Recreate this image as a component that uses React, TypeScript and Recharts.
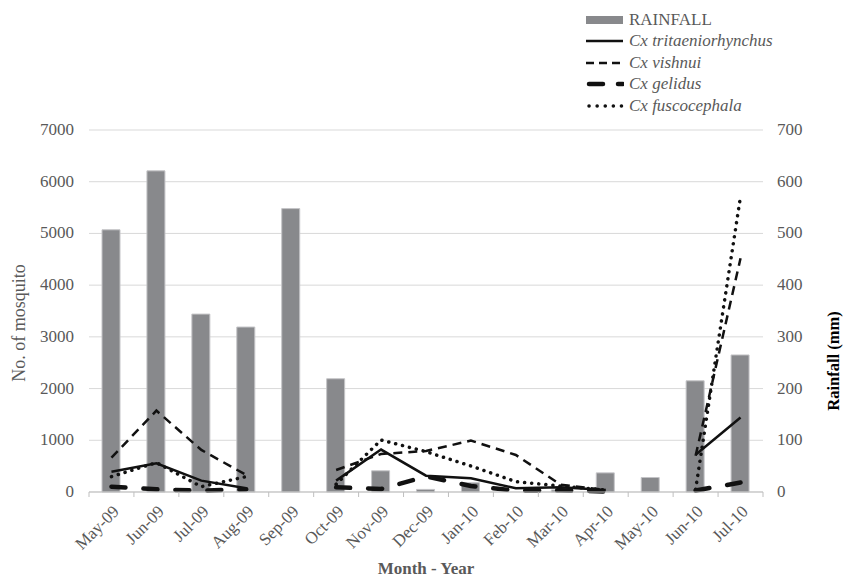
import * as React from "react";
import {
  ComposedChart, Bar, Line, XAxis, YAxis, CartesianGrid, Legend
} from "recharts";

const months = ["May-09", "Jun-09", "Jul-09", "Aug-09", "Sep-09", "Oct-09", "Nov-09", "Dec-09", "Jan-10", "Feb-10", "Mar-10", "Apr-10", "May-10", "Jun-10", "Jul-10"];
const rainfall = [507, 621, 344, 319, 548, 219, 41, 5, 18, 0, 4, 37, 28, 215, 265];
const tritaeniorhynchus = [393, 555, 220, 71, null, 220, 820, 316, 265, 71, 90, 40, null, 720, 1440];
const vishnui = [664, 1574, 813, 329, null, 425, 735, 793, 994, 716, 140, 40, null, 700, 4520];
const gelidus = [103, 52, 26, 52, null, 90, 58, 300, 116, 26, 32, 10, null, 30, 182];
const fuscocephala = [297, 568, 103, 297, null, 150, 1006, 780, 503, 200, 116, 40, null, 50, 5716];

const leftTicks = [0, 1000, 2000, 3000, 4000, 5000, 6000, 7000];
const rightTicks = [0, 100, 200, 300, 400, 500, 600, 700];

const data = months.map((m, i) => ({
  month: m,
  rain: rainfall[i],
  trit: tritaeniorhynchus[i],
  vish: vishnui[i],
  gel: gelidus[i],
  fusc: fuscocephala[i],
}));

const FONT = "Liberation Serif";
const GREY = "#595959";
const AXIS_GREY = "#bfbfbf";
// plot is 843 - 89 - 80 px wide, split into one band per month
const HALF_BAND = (843 - 89 - 80) / months.length / 2;

const series = [
  { key: "trit", name: "Cx tritaeniorhynchus", width: 2.5, dash: undefined, legendDash: undefined, cap: "butt" },
  { key: "vish", name: "Cx vishnui", width: 2.5, dash: "9 6", legendDash: "8 5", cap: "butt" },
  { key: "gel", name: "Cx gelidus", width: 4.5, dash: "14 18", legendDash: "14 15", cap: "round" },
  { key: "fusc", name: "Cx fuscocephala", width: 3.5, dash: "0.1 7", legendDash: "0.1 8", cap: "round" },
];

function LegendBox() {
  const row = { display: "flex", alignItems: "center", height: 21.5 } as React.CSSProperties;
  const txt = { fontFamily: FONT, fontSize: 17, color: GREY, marginLeft: 5, whiteSpace: "nowrap", lineHeight: "20px" } as React.CSSProperties;
  return (
    <div>
      <div style={row}>
        <svg width={38} height={10}><rect x={0} y={1} width={37} height={8} fill="#88898c" /></svg>
        <span style={txt}>RAINFALL</span>
      </div>
      {series.map(s => (
        <div key={s.key} style={row}>
          <svg width={38} height={10}>
            <line x1={s.cap === "round" ? 3 : 0} y1={5} x2={37} y2={5} stroke="#111" strokeWidth={s.width}
              strokeDasharray={s.legendDash} strokeLinecap={s.cap as any} />
          </svg>
          <span style={{ ...txt, fontStyle: "italic" }}>{s.name}</span>
        </div>
      ))}
    </div>
  );
}

function MonthTick(props: any) {
  const { x, y, payload, index } = props;
  const last = index === months.length - 1;
  return (
    <g>
      <line x1={x - HALF_BAND} y1={y - 8} x2={x - HALF_BAND} y2={y - 3} stroke={AXIS_GREY} />
      {last && <line x1={x + HALF_BAND} y1={y - 8} x2={x + HALF_BAND} y2={y - 3} stroke={AXIS_GREY} />}
      <g transform={`translate(${x + 5},${y + 9})`}>
        <text x={0} y={0} dy={5} textAnchor="end" transform="rotate(-45)"
          fontFamily={FONT} fontSize={17} fill={GREY}>{payload.value}</text>
      </g>
    </g>
  );
}

function ValueTick(props: any) {
  const { x, y, payload, anchor } = props;
  return (
    <text x={x} y={y} dy={5} textAnchor={anchor} fontFamily={FONT} fontSize={17} fill={GREY}>
      {payload.value}
    </text>
  );
}

function VTitle(props: any) {
  const { viewBox, value, dx, dy, bold, fill, size } = props;
  const cx = viewBox.x + dx;
  const cy = viewBox.y + viewBox.height / 2 + dy;
  return (
    <text x={cx} y={cy} transform={`rotate(-90 ${cx} ${cy})`} textAnchor="middle" dominantBaseline="central"
      fontFamily={FONT} fontSize={size} fontWeight={bold ? "bold" : "normal"} fill={fill}>{value}</text>
  );
}

function XTitle(props: any) {
  const { viewBox } = props;
  const cx = viewBox.x + viewBox.width / 2;
  return (
    <text x={cx} y={viewBox.y + 76} textAnchor="middle" dominantBaseline="central"
      fontFamily={FONT} fontSize={17} fontWeight="bold" fill={GREY}>Month - Year</text>
  );
}

export default function App() {
  return (
    <div style={{ position: "absolute", left: 0, top: 0, width: 843, height: 577, background: "#fff", fontFamily: FONT }}>
      <ComposedChart width={843} height={577} data={data} margin={{ top: 130, right: 0, bottom: 0, left: 0 }}>
        <CartesianGrid vertical={false} stroke="#d9d9d9" yAxisId="left" />
        <XAxis dataKey="month" height={85} tick={<MonthTick />} tickLine={false}
          axisLine={{ stroke: AXIS_GREY }} interval={0}
          label={(p: any) => <XTitle {...p} />} />
        <YAxis yAxisId="left" width={89} domain={[0, 7000]} ticks={leftTicks} axisLine={false}
          tickLine={false} tickSize={0} tickMargin={15}
          tick={<ValueTick anchor="end" />}
          label={(p: any) => <VTitle {...p} value="No. of mosquito" dx={19} dy={12} size={18} fill={GREY} />} />
        <YAxis yAxisId="right" orientation="right" width={80} domain={[0, 700]} ticks={rightTicks}
          axisLine={false} tickLine={false} tickSize={0} tickMargin={14}
          tick={<ValueTick anchor="start" />}
          label={(p: any) => <VTitle {...p} value="Rainfall (mm)" dx={70} dy={50} size={16.5} bold fill="#000" />} />
        <Legend layout="vertical" align="center" verticalAlign="middle" content={<LegendBox />}
          wrapperStyle={{ top: 9, left: 586, width: 250, height: 110 }} />
        <Bar yAxisId="right" dataKey="rain" name="RAINFALL" barSize={18}
          fill="#88898c" stroke="#c4c4c7" strokeWidth={1} isAnimationActive={false} />
        {series.map(s => (
          <Line key={s.key} yAxisId="left" type="linear" dataKey={s.key} name={s.name}
            stroke="#111" strokeWidth={s.width} strokeDasharray={s.dash} strokeLinecap={s.cap as any}
            dot={false} activeDot={false} isAnimationActive={false} />
        ))}
      </ComposedChart>
    </div>
  );
}
